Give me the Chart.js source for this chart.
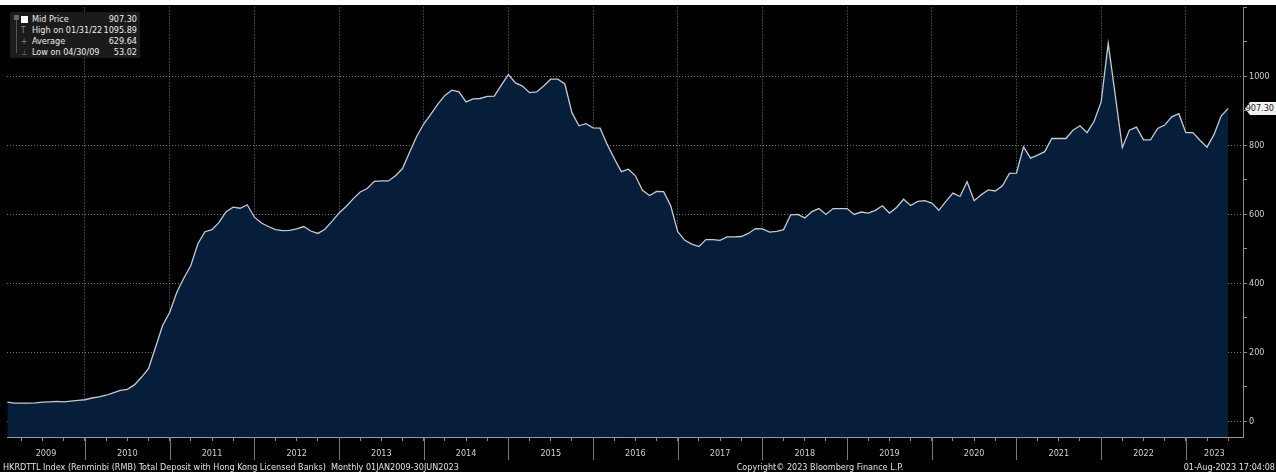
<!DOCTYPE html>
<html>
<head>
<meta charset="utf-8">
<title>HKRDTTL Index</title>
<script src="https://cdn.jsdelivr.net/npm/chart.js@4.4.0/dist/chart.umd.min.js"></script>
<style>
  html, body { margin: 0; padding: 0; background: #000; }
  #wrap {
    position: relative; width: 1276px; height: 472px; overflow: hidden; background: #000;
    font-family: 'Liberation Sans Narrow', 'DejaVu Sans Condensed', sans-serif; color: #ddd;
  }
  #topStrip { position: absolute; left: 0; top: 0; width: 1276px; height: 5px; background: #fff; z-index: 3; }
  canvas { position: absolute; left: 0; top: 0; }
  /* legend box, top left */
  #legend {
    position: absolute; left: 10px; top: 12px; width: 130px; height: 46px;
    background: #1b1b1b; font-size: 9px; z-index: 2;
  }
  #legend .row { position: absolute; left: 0; width: 130px; height: 11px; line-height: 11px; }
  #legend .lab { position: absolute; left: 22px; color: #ececec; }
  #legend .val { position: absolute; right: 3px; color: #ececec; }
  #legend .ic { position: absolute; left: 11px; color: #888; font-size: 8px; }
  #legend .sq { left: 11px; top: 2px; width: 7px; height: 7px; background: #fff; }
  #legend .tree { position: absolute; left: 6px; top: 4px; width: 1px; height: 37px; background: #555; }
  #legend .root { position: absolute; left: 4px; top: 3px; width: 5px; height: 5px; background: #666; }
  /* last value tag on the right axis */
  #tag {
    position: absolute; left: 1245px; top: 99px; width: 31px; height: 13px; line-height: 13px;
    background: #f2f2f2; color: #222; font-size: 9px; text-align: right; padding-right: 2px; box-sizing: border-box;
    clip-path: polygon(0 50%, 5px 0, 100% 0, 100% 100%, 5px 100%);
  }
  .foot { position: absolute; top: 462px; font-size: 9px; line-height: 10px; color: #e0e0e0; white-space: pre; }
</style>
</head>
<body>
<div id="wrap">
  <div id="topStrip"></div>
  <canvas id="chart" width="1276" height="472"></canvas>
  <div id="legend">
    <div class="tree"></div><div class="root"></div>
    <div class="row" style="top:2px"><span class="ic sq"></span><span class="lab">Mid Price</span><span class="val">907.30</span></div>
    <div class="row" style="top:13px"><span class="ic">T</span><span class="lab">High on 01/31/22</span><span class="val">1095.89</span></div>
    <div class="row" style="top:24px"><span class="ic">+</span><span class="lab">Average</span><span class="val">629.64</span></div>
    <div class="row" style="top:35px"><span class="ic">⊥</span><span class="lab">Low on 04/30/09</span><span class="val">53.02</span></div>
  </div>
  <div id="tag">907.30</div>
  <div class="foot" style="left:3px">HKRDTTL Index (Renminbi (RMB) Total Deposit with Hong Kong Licensed Banks)  Monthly 01JAN2009-30JUN2023</div>
  <div class="foot" style="left:720px; width:200px; text-align:center">Copyright© 2023 Bloomberg Finance L.P.</div>
  <div class="foot" style="right:1px; text-align:right">01-Aug-2023 17:04:08</div>
</div>
<script>
// Year labels on the bottom axis
const years = ['2009', '2010', '2011', '2012', '2013', '2014', '2015', '2016',
               '2017', '2018', '2019', '2020', '2021', '2022', '2023'];

// Monthly RMB deposits (month-end), Jan 2009 .. Jun 2023, one row per year
const deposits = [
  56, 53, 53, 53.02, 54, 56, 57, 58, 57, 59, 61, 63,
  68, 71, 76, 83, 90, 93, 106, 128, 153, 215, 278, 316,
  374, 415, 452, 515, 550, 556, 577, 608, 621, 618, 628, 592,
  575, 565, 556, 553, 554, 558, 565, 552, 545, 557, 580, 604,
  623, 645, 665, 675, 696, 697, 697, 712, 733, 780, 826, 862,
  890, 920, 945, 960, 955, 926, 935, 936, 942, 943, 975, 1005,
  981, 972, 953, 955, 972, 992, 992, 978, 895, 857, 863, 851,
  850, 803, 762, 724, 731, 712, 670, 655, 667, 666, 625, 550,
  525, 514, 507, 527, 527, 525, 535, 535, 536, 545, 559, 558,
  549, 551, 556, 599, 600, 590, 608, 617, 600, 617, 617, 617,
  600, 607, 604, 612, 625, 604, 620, 644, 626, 638, 640, 633,
  612, 638, 662, 652, 695, 640, 657, 671, 668, 683, 719, 720,
  796, 763, 772, 782, 820, 820, 820, 844, 857, 837, 870, 926,
  1095.89, 945, 794, 844, 853, 816, 816, 849, 859, 883, 892, 837,
  837, 815, 795, 832, 885, 907.30
];

// Labelled values on the right axis
const yTickLabels = [0, 200, 400, 600, 800, 1000];

// x is a month index: 0 = Jan 2009 month end
const xMin = -0.05;
const xMax = 175.1;
const gridColor = 'rgba(190, 195, 205, 0.62)';
const axisFont = { family: "'Liberation Sans Narrow', 'DejaVu Sans Condensed', sans-serif", size: 9 };

const isBoundary = (v) => Number.isInteger(v) && (v + 1) % 12 === 0;
const isQuarter = (v) => Number.isInteger(v) && (v + 1) % 3 === 0;

// centre of the visible part of each year, used for the year label
const yearCenter = (k) => {
  const a = Math.max(xMin, 12 * k - 1);
  const b = Math.min(xMax, 12 * k + 11);
  return (a + b) / 2;
};

// draws the long year separators under the axis and moves the value tag
const axisExtras = {
  id: 'axisExtras',
  afterDraw(chart) {
    const { ctx, chartArea, scales } = chart;
    ctx.save();
    ctx.strokeStyle = '#7a7a7a';
    ctx.lineWidth = 1;
    for (let k = 1; k < years.length; k++) {
      const px = Math.round(scales.x.getPixelForValue(12 * k - 1)) + 0.5;
      ctx.beginPath();
      ctx.moveTo(px, chartArea.bottom);
      ctx.lineTo(px, chartArea.bottom + 23);
      ctx.stroke();
    }
    ctx.restore();
    const last = deposits[deposits.length - 1];
    document.getElementById('tag').style.top = (scales.y.getPixelForValue(last) - 6.5) + 'px';
  }
};

const ctx = document.getElementById('chart').getContext('2d');
new Chart(ctx, {
  type: 'line',
  data: {
    datasets: [{
      label: 'Mid Price',
      data: deposits.map((v, i) => ({ x: i, y: v })),
      borderColor: '#c4cad2',
      borderWidth: 1.3,
      backgroundColor: '#071e3b',
      fill: 'start',
      pointRadius: 0,
      tension: 0
    }]
  },
  options: {
    responsive: false,
    animation: false,
    layout: { padding: { left: 7, top: 5, right: 0, bottom: 0 } },
    plugins: { legend: { display: false }, tooltip: { enabled: false } },
    scales: {
      x: {
        type: 'linear',
        z: 1, // grid drawn over the filled area
        min: xMin,
        max: xMax,
        afterBuildTicks: (scale) => {
          const ticks = [];
          for (let m = 2; m <= xMax; m += 3) ticks.push({ value: m });
          years.forEach((y, k) => {
            const c = yearCenter(k);
            if (!ticks.some(t => t.value === c)) ticks.push({ value: c });
          });
          ticks.sort((a, b) => a.value - b.value);
          scale.ticks = ticks;
        },
        afterFit: (scale) => { scale.height = 35; },
        border: { display: true, color: '#9a9a9a', width: 1, dash: [1, 2] },
        grid: {
          color: (c) => isBoundary(c.tick.value) ? gridColor : 'transparent',
          tickColor: (c) => isQuarter(c.tick.value) ? '#8a8a8a' : 'transparent',
          tickLength: 4,
          tickBorderDash: [4, 0]
        },
        ticks: {
          autoSkip: false,
          maxRotation: 0,
          padding: 7,
          color: '#cfcfcf',
          font: axisFont,
          callback: (value) => {
            const k = years.findIndex((y, i) => yearCenter(i) === value);
            return k >= 0 ? years[k] : '';
          }
        }
      },
      y: {
        position: 'right',
        z: 1,
        min: -45,
        max: 1200,
        afterBuildTicks: (scale) => {
          const ticks = [];
          for (let v = 0; v <= 1200; v += 100) ticks.push({ value: v });
          scale.ticks = ticks;
        },
        afterFit: (scale) => { scale.width = 33; },
        border: { display: true, color: '#8c8c8c', width: 1, dash: [1, 2] },
        grid: {
          color: (c) => yTickLabels.includes(c.tick.value) ? gridColor : 'transparent',
          tickColor: '#8a8a8a',
          tickLength: 4,
          tickBorderDash: [4, 0]
        },
        ticks: {
          autoSkip: false,
          padding: 2,
          color: '#cfcfcf',
          font: axisFont,
          callback: (value) => yTickLabels.includes(value) ? String(value) : ''
        }
      }
    }
  },
  plugins: [axisExtras]
});
</script>
</body>
</html>
